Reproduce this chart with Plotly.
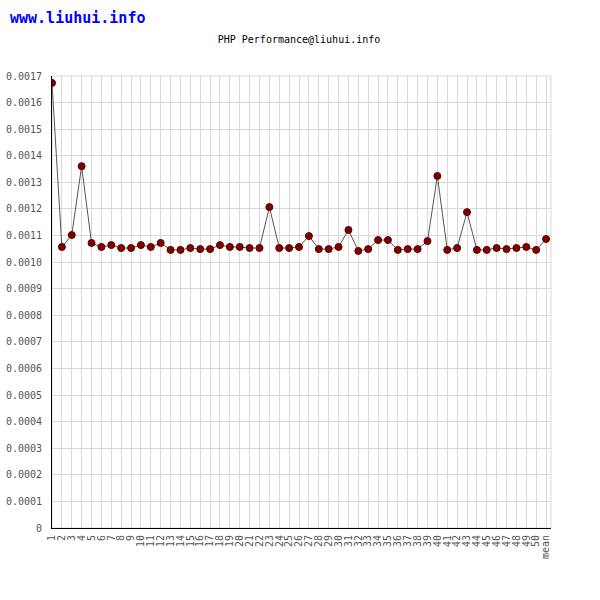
import plotly.graph_objects as go

categories = [str(i) for i in range(1, 51)] + ["mean"]
values = [
    0.001674, 0.001057, 0.001102, 0.001361, 0.001072, 0.001057, 0.001064, 0.001053, 0.001053, 0.001064,
    0.001057, 0.001072, 0.001046, 0.001046, 0.001053, 0.001049, 0.001049, 0.001064, 0.001057, 0.001057,
    0.001053, 0.001053, 0.001207, 0.001053, 0.001053, 0.001057, 0.001098, 0.001049, 0.001049, 0.001057,
    0.001121, 0.001042, 0.001049, 0.001083, 0.001083, 0.001046, 0.001049, 0.001049, 0.001079, 0.001324,
    0.001046, 0.001053, 0.001188, 0.001046, 0.001046, 0.001053, 0.001049, 0.001053, 0.001057, 0.001046,
    0.001087,
]
y_ticks = [i / 10000 for i in range(0, 18)]
y_tick_labels = ["0"] + ["0.%04d" % i for i in range(1, 18)]

mono = "DejaVu Sans Mono"
W, H = 600, 600
ml, mt, mr, mb = 52, 76, 49, 72
pw, ph = W - ml - mr, H - mt - mb

fig = go.Figure()
fig.add_trace(go.Scatter(
    x=categories, y=values, mode="lines+markers",
    line=dict(color="#555555", width=1),
    marker=dict(color="#800000", size=7, line=dict(color="#5a0000", width=1)),
    showlegend=False, hoverinfo="x+y",
))

fig.update_layout(
    width=W, height=H,
    margin=dict(l=ml, r=mr, t=mt, b=mb, autoexpand=False),
    paper_bgcolor="white", plot_bgcolor="white",
    title=dict(text="PHP Performance@liuhui.info", x=299 / W, xanchor="center",
               y=1 - 39 / H, yanchor="middle",
               font=dict(family=mono, size=10, color="black")),
    xaxis=dict(type="category", range=[0, 50.5], showgrid=True, gridcolor="#d9d9d9", gridwidth=1,
               showline=True, linecolor="black", linewidth=1, tickangle=-90,
               tickmode="array", tickvals=categories, ticktext=categories, automargin=False,
               tickfont=dict(family=mono, size=10, color="#555555"), ticks="", zeroline=False,
               ticklabelstandoff=2),
    yaxis=dict(range=[0, 0.0017], tickvals=y_ticks, ticktext=y_tick_labels, showgrid=True,
               gridcolor="#d9d9d9", gridwidth=1, showline=True, linecolor="black", linewidth=1,
               automargin=False, ticklabelstandoff=7,
               tickfont=dict(family=mono, size=10, color="#555555"), ticks="", zeroline=False),
    shapes=[dict(type="rect", xref="paper", yref="paper", x0=0, x1=1, y0=0, y1=1,
                 line=dict(color="#d9d9d9", width=1), layer="below")],
    annotations=[dict(text="<b>www.liuhui.info</b>", xref="paper", yref="paper",
                      x=(8 - ml) / pw, y=1 + (mt - 18) / ph, xanchor="left", yanchor="middle",
                      showarrow=False, font=dict(family=mono, size=15, color="#0000ff"))],
)

fig.write_html("out.html", config={"displayModeBar": False},
               post_script="document.body.style.margin='0';")
